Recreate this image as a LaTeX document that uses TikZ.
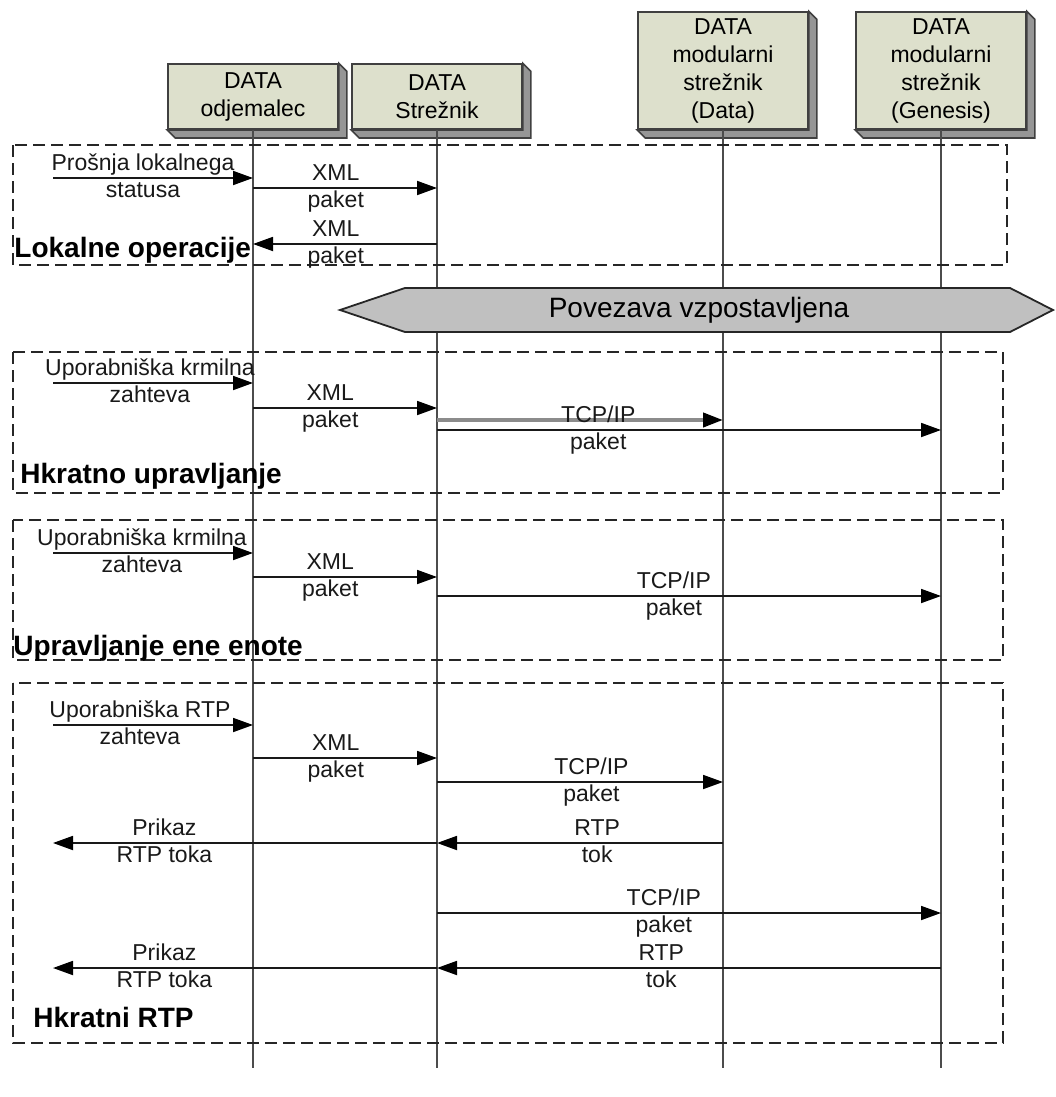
\documentclass[tikz,border=0pt]{standalone}
\usepackage{fontspec}
\setmainfont{Liberation Sans}
\usetikzlibrary{arrows.meta,backgrounds}

\definecolor{boxfill}{RGB}{221,224,204}
\definecolor{boxside}{RGB}{150,150,150}
\definecolor{hexfill}{RGB}{192,192,192}

\tikzset{
  databox/.style={draw=black!75, fill=boxfill, line width=0.8pt, minimum width=85pt,
    anchor=south, align=center, inner sep=0pt, font=\fontsize{11.5}{14}\selectfont},
  lifeline/.style={draw=black!70, line width=0.9pt},
  frame/.style={draw=black!85, line width=0.8pt, dash pattern=on 6pt off 3pt},
  msg/.style={draw=black!90, line width=0.9pt, -{Triangle[length=10pt,width=7pt,color=black]}},
  lbl/.style={font=\fontsize{11.5}{14}\selectfont, inner sep=1pt, text height=8.5pt,
    text depth=2.5pt, text=black!90},
  title/.style={font=\fontsize{14}{16}\selectfont\bfseries, anchor=west, inner sep=0pt,
    text height=10pt, text depth=3pt},
}

% message: [style]{name}{from}{to}{y}{pos}{upper text}{lower text}
\newcommand\msg[8][]{%
  \draw[msg,#1] (#3 |- 0,#5) -- node[lbl,pos=#6,above] (#2a) {#7}
    node[lbl,pos=#6,below] (#2b) {#8} (#4 |- 0,#5);}

\begin{document}
\begin{tikzpicture}[x=0.5pt, y=-0.5pt]
  \useasboundingbox (0,0) rectangle (1055,1097);

  % the four participants
  \node[databox, minimum height=32.5pt] (odjemalec) at (253,130) {DATA\\odjemalec};
  \node[databox, minimum height=32.5pt] (streznik) at (437,130) {DATA\\Strežnik};
  \node[databox, minimum height=58.5pt] (modData) at (723,130) {DATA\\modularni\\strežnik\\(Data)};
  \node[databox, minimum height=58.5pt] (modGenesis) at (941,130) {DATA\\modularni\\strežnik\\(Genesis)};
  \coordinate (user) at (53,0);

  \begin{scope}[on background layer]
    \foreach \n in {odjemalec,streznik,modData,modGenesis} {
      \filldraw[fill=boxside, draw=black!75, line width=0.8pt]
        (\n.north east) -- ([shift={(8,8)}]\n.north east) -- ([shift={(8,8)}]\n.south east)
        -- ([shift={(8,8)}]\n.south west) -- (\n.south west) -- (\n.south east) -- cycle;
      \draw[lifeline] (\n.south) -- (\n.south |- 0,1068);
    }
  \end{scope}

  % connection bar
  \filldraw[fill=hexfill, draw=black!85, line width=0.9pt]
    (340,310) -- (405,288) -- (1010,288) -- (1053,310) -- (1010,332) -- (405,332) -- cycle;
  \node[font=\fontsize{14}{16}\selectfont] (link) at (699,310) {Povezava vzpostavljena};

  % groups
  \draw[frame] (13,145) rectangle (1007,265);
  \draw[frame] (13,352) rectangle (1003,493);
  \draw[frame] (13,520) rectangle (1003,660);
  \draw[frame] (13,683) rectangle (1003,1043);

  \node[title] (lokal) at (14,250) {Lokalne operacije};
  \node[title] (hkrat) at (20,476) {Hkratno upravljanje};
  \node[title] (enota) at (13,648) {Upravljanje ene enote};
  \node[title] (hrtp) at (33,1020) {Hkratni RTP};

  % local operations
  \msg{m1}{user}{odjemalec}{178}{.45}{Prošnja lokalnega}{statusa}
  \msg{m2}{odjemalec}{streznik}{188}{.45}{XML}{paket}
  \msg{m3}{streznik}{odjemalec}{244}{.55}{XML}{paket}

  % simultaneous control
  \msg{m4}{user}{odjemalec}{383}{.485}{Uporabniška krmilna}{zahteva}
  \msg{m5}{odjemalec}{streznik}{408}{.42}{XML}{paket}
  \draw[msg, draw=black!45, line width=2pt] (streznik |- 0,420) -- (modData |- 0,420);
  \msg{m6}{streznik}{modGenesis}{430}{.32}{TCP/IP}{paket}

  % single unit control
  \msg{m7}{user}{odjemalec}{553}{.445}{Uporabniška krmilna}{zahteva}
  \msg{m8}{odjemalec}{streznik}{577}{.42}{XML}{paket}
  \msg{m9}{streznik}{modGenesis}{596}{.47}{TCP/IP}{paket}

  % simultaneous RTP
  \msg{m10}{user}{odjemalec}{725}{.435}{Uporabniška RTP}{zahteva}
  \msg{m11}{odjemalec}{streznik}{758}{.45}{XML}{paket}
  \msg{m12}{streznik}{modData}{782}{.54}{TCP/IP}{paket}
  \msg{m13}{modData}{streznik}{843}{.44}{RTP}{tok}
  \msg{m14}{streznik}{user}{843}{.71}{Prikaz}{RTP toka}
  \msg{m15}{streznik}{modGenesis}{913}{.45}{TCP/IP}{paket}
  \msg{m16}{modGenesis}{streznik}{968}{.555}{RTP}{tok}
  \msg{m17}{streznik}{user}{968}{.71}{Prikaz}{RTP toka}
\end{tikzpicture}
\end{document}
